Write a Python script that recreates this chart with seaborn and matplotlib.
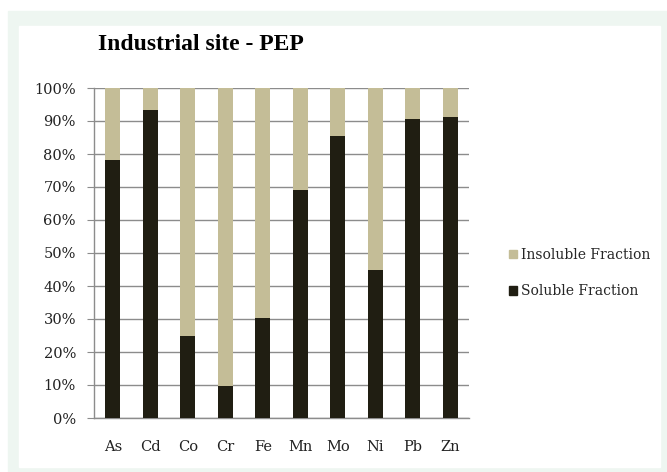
import matplotlib
matplotlib.use("Agg")
import matplotlib.pyplot as plt
import matplotlib.patches as mpatches
import numpy as np
import pandas as pd
import seaborn as sns

# data (percent soluble)
metals = ["As", "Cd", "Co", "Cr", "Fe", "Mn", "Mo", "Ni", "Pb", "Zn"]
soluble = [78.2, 93.4, 24.7, 9.8, 30.4, 69.2, 85.4, 45.0, 90.5, 91.2]
insoluble = [100 - s for s in soluble]

df = pd.DataFrame({"metal": metals, "soluble": soluble, "insoluble": insoluble})
df["total"] = df["soluble"] + df["insoluble"]

col_sol = "#201e12"
col_ins = "#c4bd97"

sns.set_style("white")
plt.rcParams["font.family"] = ["DejaVu Serif"]

fig = plt.figure(figsize=(6.67, 4.72), dpi=100)
fig.patches.append(mpatches.Rectangle((8 / 667, 0), 659 / 667, 1 - 11 / 472,
                                      transform=fig.transFigure, color="#eef6f1", zorder=-2))
fig.patches.append(mpatches.Rectangle((19 / 667, 5 / 472), 641 / 667, 441 / 472,
                                      transform=fig.transFigure, color="white", zorder=-1))
ax = fig.add_axes([94 / 667, 1 - 418 / 472, 375 / 667, 330 / 472])

sns.barplot(data=df, x="metal", y="total", color=col_ins, width=0.4,
            saturation=1, linewidth=0, ax=ax, zorder=2)
sns.barplot(data=df, x="metal", y="soluble", color=col_sol, width=0.4,
            saturation=1, linewidth=0, ax=ax, zorder=3)

ax.set_xlim(-0.5, 9.5)
ax.set_ylim(0, 100)
ax.set_yticks(np.arange(0, 101, 10))
ax.set_yticklabels([f"{v}%" for v in range(0, 101, 10)], fontsize=10.5, color="#222222")
ax.set_xticks(range(len(metals)))
ax.set_xticklabels(metals, fontsize=10.5, color="#222222")
ax.set_xticks(np.arange(-0.5, 10, 1), minor=True)
ax.tick_params(axis="x", which="major", length=0, pad=16)
ax.tick_params(axis="x", which="minor", length=5, color="#8c8c8c", direction="out")
ax.tick_params(axis="y", length=5, color="#8c8c8c", direction="out", pad=8, left=True)
ax.grid(axis="y", color="#8c8c8c", linewidth=1, zorder=0)
ax.set_axisbelow(True)
for s in ["top", "right"]:
    ax.spines[s].set_visible(False)
for s in ["left", "bottom"]:
    ax.spines[s].set_color("#8c8c8c")
    ax.spines[s].set_linewidth(1)
ax.set_xlabel("")
ax.set_ylabel("")

fig.text(201 / 667, 1 - 45 / 472, "Industrial site - PEP", ha="center", va="center",
         fontsize=17, fontweight="bold", family="Liberation Serif", color="black")

handles = [mpatches.Patch(color=col_ins, label="Insoluble Fraction"),
           mpatches.Patch(color=col_sol, label="Soluble Fraction")]
fig.legend(handles=handles, loc="center left", bbox_to_anchor=(496 / 667, 1 - 273 / 472),
           frameon=False, fontsize=10, handlelength=0.6, handleheight=0.6,
           handletextpad=0.3, labelspacing=1.6)

fig.savefig("out.png", dpi=100)
